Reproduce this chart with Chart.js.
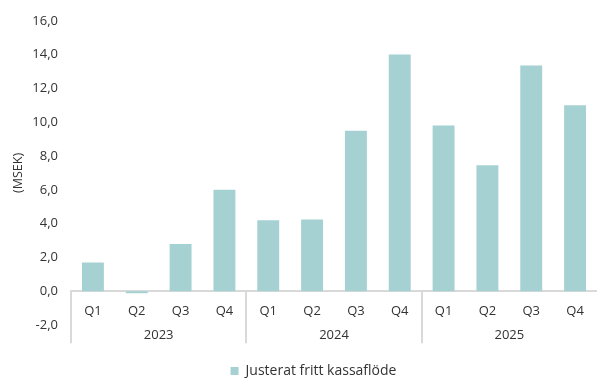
<!DOCTYPE html>
<html>
<head>
<meta charset="utf-8">
<script src="https://cdn.jsdelivr.net/npm/chart.js@4/dist/chart.umd.min.js"></script>
<style>
  html, body { margin: 0; padding: 0; background: #ffffff; overflow: hidden; }
  #wrap { position: relative; width: 597px; height: 378px; }
</style>
</head>
<body>
<div id="wrap"><canvas id="c"></canvas></div>
<script>
const quarters = ['Q1', 'Q2', 'Q3', 'Q4', 'Q1', 'Q2', 'Q3', 'Q4', 'Q1', 'Q2', 'Q3', 'Q4'];
const years = ['2023', '2024', '2025'];
const quartersPerYear = 4;
const seriesName = 'Justerat fritt kassaflöde';
const values = [1.7, -0.12, 2.8, 6.0, 4.2, 4.25, 9.5, 14.0, 9.8, 7.45, 13.35, 11.0];
const yTitle = '(MSEK)';
const yMin = -2, yMax = 16, yStep = 2;

const FONT = "'Open Sans', 'Noto Sans', sans-serif";
const TEXT = '#333333';
const AXIS = '#d9d9d9';
const BAR = '#a6d1d2';

const groupPlugin = {
  id: 'groups',
  afterDraw(chart) {
    const x = chart.scales.x, y = chart.scales.y;
    const ctx = chart.ctx;
    const y0 = y.getPixelForValue(0);
    const half = (x.getPixelForValue(1) - x.getPixelForValue(0)) / 2;
    ctx.save();
    ctx.strokeStyle = AXIS;
    ctx.lineWidth = 2;
    for (let g = 0; g < years.length; g++) {
      const left = x.getPixelForValue(g * quartersPerYear) - half;
      ctx.beginPath();
      ctx.moveTo(Math.round(left), y0);
      ctx.lineTo(Math.round(left), y0 + 52);
      ctx.stroke();
    }
    ctx.fillStyle = TEXT;
    ctx.font = "13px " + FONT;
    ctx.textAlign = 'center';
    ctx.textBaseline = 'middle';
    for (let g = 0; g < years.length; g++) {
      const a = x.getPixelForValue(g * quartersPerYear);
      const b = x.getPixelForValue(g * quartersPerYear + quartersPerYear - 1);
      ctx.fillText(years[g], (a + b) / 2, y0 + 44);
    }
    ctx.restore();
  },
  afterLayout(chart) {
    if (chart.legend) { chart.legend.left += 23; }
  }
};

new Chart(document.getElementById('c'), {
  type: 'bar',
  data: {
    labels: quarters,
    datasets: [{
      label: seriesName,
      data: values,
      backgroundColor: BAR,
      borderWidth: 0,
      categoryPercentage: 1.0,
      barPercentage: 0.5
    }]
  },
  plugins: [groupPlugin],
  options: {
    responsive: true,
    maintainAspectRatio: false,
    animation: false,
    devicePixelRatio: 1,
    layout: { padding: { left: 0, right: -7, top: 14, bottom: -10 } },
    plugins: {
      legend: {
        position: 'bottom',
        labels: {
          font: { family: FONT, size: 14 },
          color: TEXT,
          boxWidth: 8,
          boxHeight: 8,
          padding: 39
        }
      },
      tooltip: { enabled: false }
    },
    scales: {
      x: {
        type: 'category',
        position: { y: 0 },
        grid: { display: false, drawTicks: false },
        border: { display: true, color: AXIS, width: 2 },
        ticks: { color: TEXT, font: { family: FONT, size: 13 }, padding: 12, maxRotation: 0, autoSkip: false }
      },
      y: {
        min: yMin,
        max: yMax,
        afterFit(scale) { scale.width = 71; },
        grid: { display: false, drawTicks: false },
        border: { display: false },
        title: {
          display: true,
          text: yTitle,
          color: TEXT,
          font: { family: FONT, size: 12.5 },
          padding: { top: 11, bottom: 0 }
        },
        ticks: {
          stepSize: yStep,
          color: TEXT,
          font: { family: FONT, size: 13 },
          padding: 13,
          callback: (v) => Number(v).toFixed(1).replace('.', ',')
        }
      }
    }
  }
});
</script>
</body>
</html>
